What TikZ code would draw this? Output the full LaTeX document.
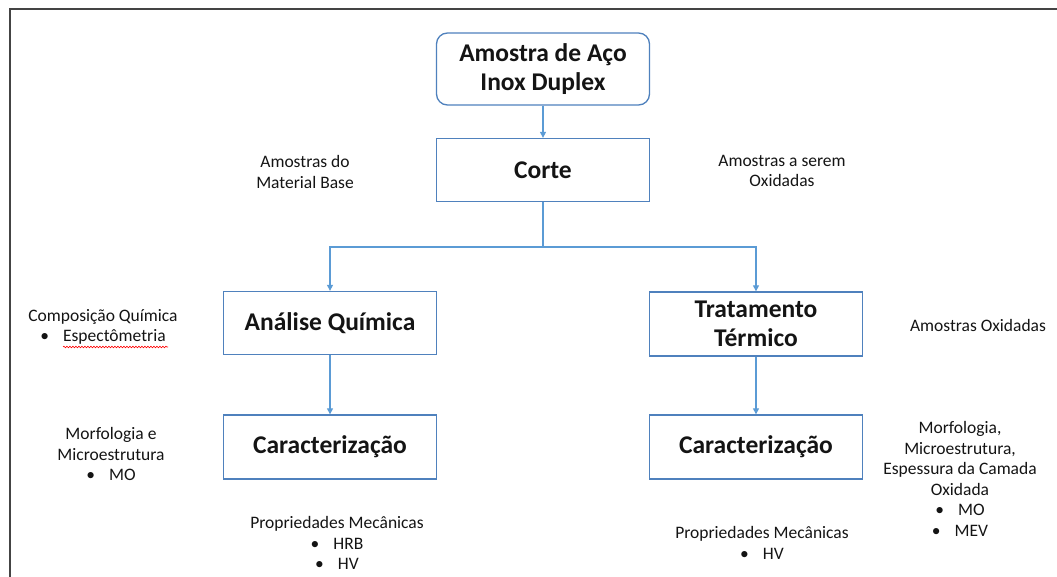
\documentclass[tikz,border=0pt]{standalone}
\usepackage{fontspec}
\setmainfont{Carlito}
\usetikzlibrary{arrows.meta,decorations.pathmorphing}
\definecolor{boxblue}{RGB}{79,129,189}
\definecolor{linkblue}{RGB}{91,155,213}
\definecolor{frame}{RGB}{68,68,68}
\definecolor{txt}{RGB}{20,20,20}
\tikzset{
  stepbox/.style={draw=boxblue, line width=1.3pt, fill=white, minimum width=213pt, minimum height=63pt, inner sep=2pt, align=center, text=txt, font=\bfseries\fontsize{25.5}{29}\selectfont},
  roundbox/.style={stepbox, rounded corners=11pt, minimum height=72pt},
  link/.style={draw=linkblue, line width=1.1pt},
  linkarrow/.style={link, -{Triangle[length=6pt,width=6pt]}},
  note/.style={align=center, text=txt, inner sep=0pt, font=\fontsize{17.5}{20.5}\selectfont},
}
\begin{document}
\begin{tikzpicture}[x=1pt,y=-1pt]
\useasboundingbox (0,0) rectangle (1057,577);
\draw[frame, line width=1.6pt] (10,577) -- (10,9) -- (1057,9);

\node[roundbox] (amostra) at (543,69) {Amostra de Aço\\Inox Duplex};
\node[stepbox] (corte) at (543,170) {Corte};
\node[stepbox] (analise) at (330,323) {Análise Química};
\node[stepbox, minimum height=64pt] (trat) at (756,324) {Tratamento\\Térmico};
\node[stepbox, minimum height=64pt] (carA) at (330,447) {Caracterização};
\node[stepbox, minimum height=64pt] (carB) at (756,447) {Caracterização};

\coordinate (split) at (543,247);
\draw[linkarrow] (amostra.south) -- (corte.north);
\draw[link] (corte.south) -- (split);
\draw[linkarrow] (split) -| (analise.north);
\draw[linkarrow] (split) -| (trat.north);
\draw[linkarrow] (analise.south) -- (carA.north);
\draw[linkarrow] (trat.south) -- (carB.north);

\node[note] (base) at (305,172) {Amostras do\\Material Base};
\node[note] (oxid) at (782,171) {Amostras a serem\\Oxidadas};
\node[note] (comp) at (103,327) {Composição Química\\\textbullet\hspace{0.8em}Espectômetria};
\node[note] (morfA) at (111,454) {Morfologia e\\Microestrutura\\\textbullet\hspace{0.8em}MO};
\node[note] (propA) at (337,543) {Propriedades Mecânicas\\\textbullet\hspace{0.8em}HRB\\\textbullet\hspace{0.8em}HV};
\node[note] (oxA) at (978,325) {Amostras Oxidadas};
\node[note] (morfB) at (960,479) {Morfologia,\\Microestrutura,\\Espessura da Camada\\Oxidada\\\textbullet\hspace{0.8em}MO\\\textbullet\hspace{0.8em}MEV};
\node[note] (propB) at (762,543) {Propriedades Mecânicas\\\textbullet\hspace{0.8em}HV};

\draw[red, line width=0.6pt, decorate, decoration={snake, amplitude=0.8pt, segment length=3pt}] (63,347) -- (168,347);
\end{tikzpicture}
\end{document}
